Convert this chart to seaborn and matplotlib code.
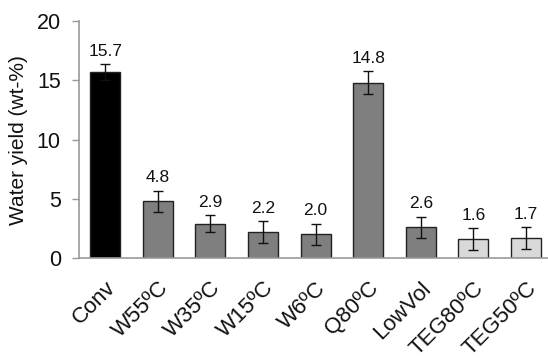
import matplotlib
matplotlib.use("Agg")
import matplotlib.pyplot as plt
import seaborn as sns
import pandas as pd

categories = ["Conv", "W55ºC", "W35ºC", "W15ºC", "W6ºC", "Q80ºC", "LowVol", "TEG80ºC", "TEG50ºC"]
values = [15.7, 4.8, 2.9, 2.2, 2.0, 14.8, 2.6, 1.6, 1.7]
errors = [0.65, 0.9, 0.7, 0.9, 0.9, 0.95, 0.9, 0.9, 0.9]
colors = ["#000000", "#7f7f7f", "#7f7f7f", "#7f7f7f", "#7f7f7f", "#7f7f7f", "#7f7f7f", "#d9d9d9", "#d9d9d9"]

sns.set_theme(style="white")
plt.rcParams['font.family'] = ['Liberation Sans', 'DejaVu Sans']

df = pd.DataFrame({"cat": categories, "val": values})
fig = plt.figure(figsize=(5.48, 3.58), dpi=100)
ax = fig.add_axes([0.144, 0.279, 0.856, 0.662])
sns.barplot(data=df, x="cat", y="val", hue="cat", palette=colors, legend=False,
            width=0.57, edgecolor="#222222", linewidth=1.0, ax=ax)
ax.errorbar(range(len(categories)), values, yerr=errors, fmt="none",
            ecolor="#111111", elinewidth=1.0, capsize=3.5, capthick=1.0, zorder=5)
for i, (v, e) in enumerate(zip(values, errors)):
    ax.text(i, v + e + 0.45, f"{v:.1f}", ha="center", va="bottom", fontsize=12.5, color="#111111")

ax.set_ylim(0, 20)
ax.set_xlim(-0.5, 8.42)
ax.set_yticks([0, 5, 10, 15, 20])
ax.set_xlabel("")
ax.set_ylabel("Water yield (wt-%)", fontsize=15, color="#111111", labelpad=6)
ax.tick_params(axis="y", which="both", left=True, length=5, width=1, color="#999999",
               labelsize=15.5, labelcolor="#111111", pad=8)
ax.tick_params(axis="x", bottom=False, labelsize=16, labelcolor="#111111", pad=8)
plt.setp(ax.get_xticklabels(), rotation=45, ha="right", rotation_mode="anchor")
for s in ["top", "right"]:
    ax.spines[s].set_visible(False)
for s in ["left", "bottom"]:
    ax.spines[s].set_color("#999999")
    ax.spines[s].set_linewidth(1.2)
fig.savefig("out.png", dpi=100)
